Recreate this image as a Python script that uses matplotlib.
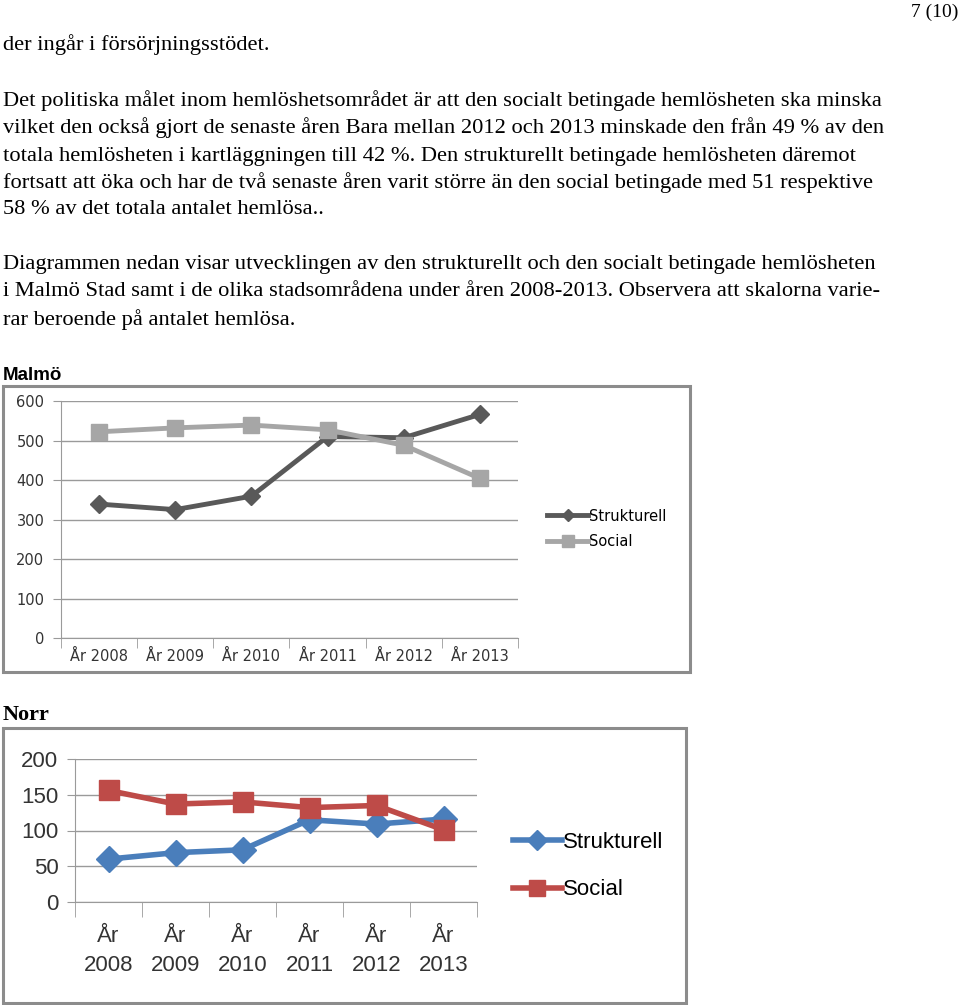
import matplotlib.pyplot as plt
from matplotlib.patches import Rectangle
from matplotlib.lines import Line2D

W, H = 960, 1005

years = ["2008", "2009", "2010", "2011", "2012", "2013"]

malmo_struktur = [339, 325, 359, 510, 507, 566]
malmo_social = [522, 532, 539, 527, 488, 404]

norr_struktur = [60, 69, 73, 115, 109, 116]
norr_social = [156, 137, 140, 132, 135, 101]

page_no = "7 (10)"
body_lines = [
    (45, "der ingår i försörjningsstödet."),
    (101, "Det politiska målet inom hemlöshetsområdet är att den socialt betingade hemlösheten ska minska"),
    (128, "vilket den också gjort de senaste åren Bara mellan 2012 och 2013 minskade den från 49 % av den"),
    (156, "totala hemlösheten i kartläggningen till 42 %. Den strukturellt betingade hemlösheten däremot"),
    (183, "fortsatt att öka och har de två senaste åren varit större än den social betingade med 51 respektive"),
    (210, "58 % av det totala antalet hemlösa.."),
    (265, "Diagrammen nedan visar utvecklingen av den strukturellt och den socialt betingade hemlösheten"),
    (292, "i Malmö Stad samt i de olika stadsområdena under åren 2008-2013. Observera att skalorna varie-"),
    (320, "rar beroende på antalet hemlösa."),
]

SERIF = ["Liberation Serif", "DejaVu Serif"]
SANS = ["Liberation Sans", "DejaVu Sans"]


def fx(x):
    return x / W


def fy(y):
    return 1 - y / H


def add_axes_px(fig, left, top, right, bottom):
    return fig.add_axes([fx(left), fy(bottom), (right - left) / W, (bottom - top) / H])


def add_box(fig, left, top, right, bottom):
    fig.patches.append(Rectangle((fx(left), fy(bottom)), (right - left) / W, (bottom - top) / H,
                                 transform=fig.transFigure, fill=False,
                                 edgecolor="#8c8c8c", linewidth=2.2, zorder=0))


def style_axes(ax, labels, fontsize, family, ymax, ystep, xpad=8, linespacing=1.3):
    x = list(range(len(labels)))
    ax.set_xlim(-0.5, len(labels) - 0.5)
    ax.set_ylim(0, ymax)
    ax.set_xticks(x)
    ax.set_xticklabels(labels, fontsize=fontsize, family=family, color="#333333",
                       linespacing=linespacing)
    ax.set_xticks([i - 0.5 for i in range(len(labels) + 1)], minor=True)
    ax.tick_params(axis="x", which="major", length=0, pad=xpad)
    ax.tick_params(axis="x", which="minor", length=7, color="#9a9a9a")
    ax.set_yticks(range(0, ymax + 1, ystep))
    ax.set_yticklabels([str(v) for v in range(0, ymax + 1, ystep)],
                       fontsize=fontsize, family=family, color="#333333")
    ax.tick_params(axis="y", length=6, color="#9a9a9a", pad=6)
    ax.grid(axis="y", color="#9a9a9a", linewidth=1)
    ax.set_axisbelow(True)
    for side in ["top", "right"]:
        ax.spines[side].set_visible(False)
    ax.spines["left"].set_color("#9a9a9a")
    ax.spines["bottom"].set_color("#9a9a9a")
    return x


fig = plt.figure(figsize=(W / 100, H / 100), dpi=100)

# page text
fig.text(fx(958), fy(12), page_no, ha="right", va="center", fontsize=14, family=SERIF)
for y, line in body_lines:
    fig.text(fx(3), fy(y), line, ha="left", va="center", fontsize=16.2, family=SERIF)

# Malmö chart
fig.text(fx(3), fy(375), "Malmö", ha="left", va="center", fontsize=13.5, weight="bold", family=SANS)
add_box(fig, 3, 386, 690, 672)
ax1 = add_axes_px(fig, 61, 401, 518, 638)
x = style_axes(ax1, ["År " + y for y in years], 10.5, ["DejaVu Sans"], 600, 100)
ax1.plot(x, malmo_struktur, color="#595959", linewidth=3.5, marker="D", markersize=9, zorder=3)
ax1.plot(x, malmo_social, color="#a6a6a6", linewidth=3.5, marker="s", markersize=11, zorder=3)
h1 = [Line2D([], [], color="#595959", linewidth=3.5, marker="D", markersize=6),
      Line2D([], [], color="#a6a6a6", linewidth=3.5, marker="s", markersize=8)]
fig.legend(h1, ["Strukturell", "Social"], loc="center left",
           bbox_to_anchor=(fx(534), fy(529)), frameon=False, handlelength=2.8,
           handletextpad=0.05, labelspacing=0.75, prop={"family": "DejaVu Sans", "size": 10.5})

# Norr chart
fig.text(fx(3), fy(715), "Norr", ha="left", va="center", fontsize=16, weight="bold", family=SERIF)
add_box(fig, 3, 728, 686, 1003)
ax2 = add_axes_px(fig, 75, 759, 477, 902)
x = style_axes(ax2, ["År\n" + y for y in years], 16, SANS, 200, 50, xpad=17, linespacing=1.5)
ax2.tick_params(axis="x", which="minor", length=11)
ax2.plot(x, norr_struktur, color="#4a7ebb", linewidth=4, marker="D", markersize=13, zorder=3)
ax2.plot(x, norr_social, color="#be4b48", linewidth=4, marker="s", markersize=15, zorder=3)
h2 = [Line2D([], [], color="#4a7ebb", linewidth=4, marker="D", markersize=10),
      Line2D([], [], color="#be4b48", linewidth=4, marker="s", markersize=12)]
fig.legend(h2, ["Strukturell", "Social"], loc="center left",
           bbox_to_anchor=(fx(493), fy(866)), frameon=False, handlelength=2.2,
           handletextpad=0.05, labelspacing=1.2, prop={"family": SANS, "size": 16})

fig.savefig("out.png", dpi=100)
